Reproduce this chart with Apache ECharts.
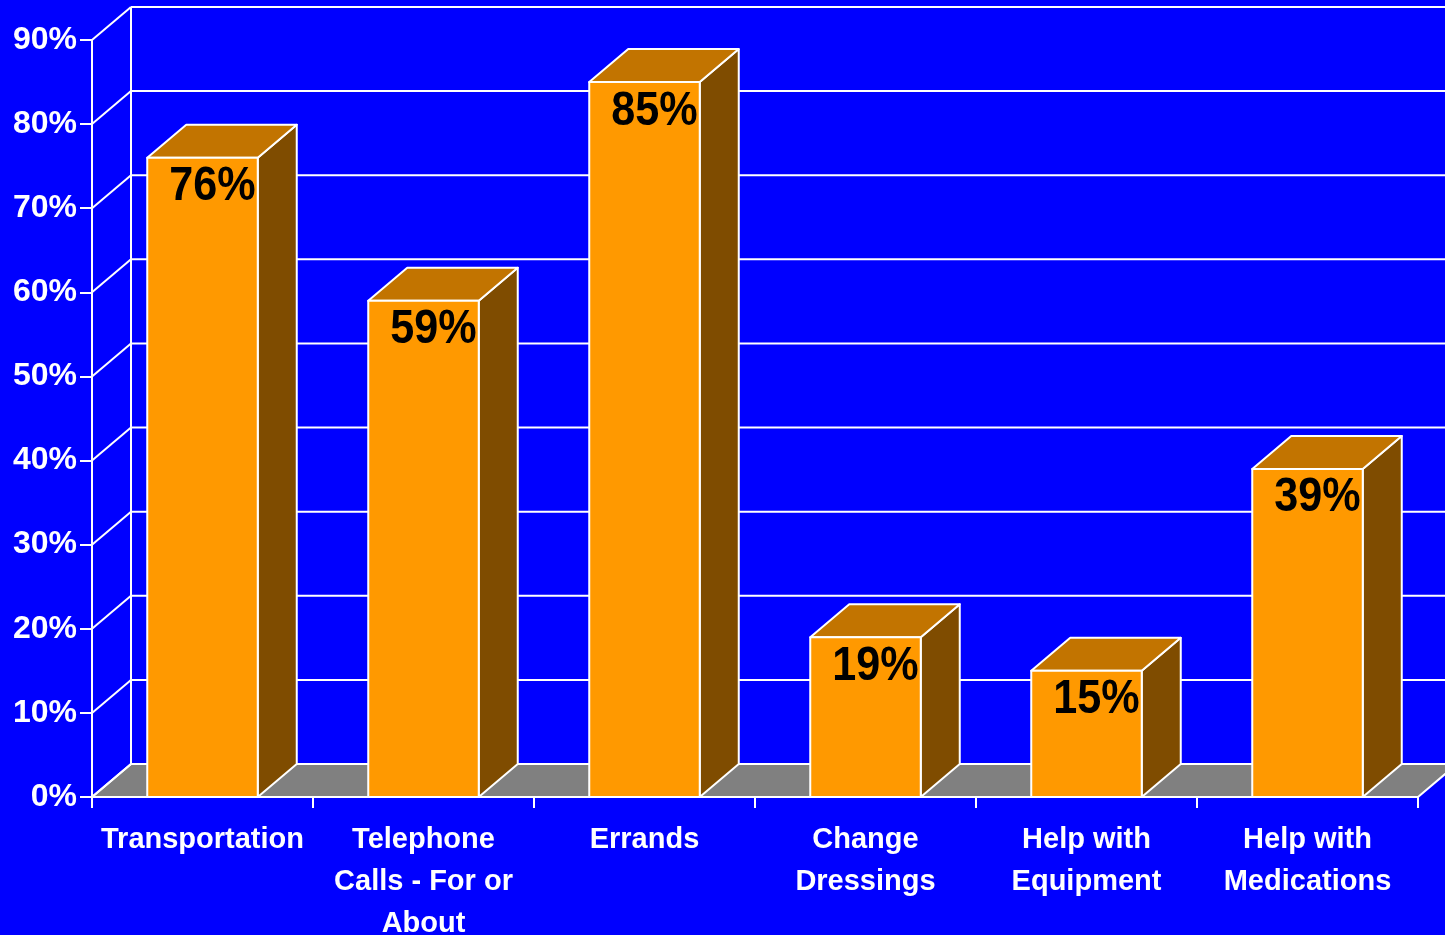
<!DOCTYPE html>
<html><head><meta charset="utf-8">
<script src="https://cdn.jsdelivr.net/npm/echarts@6/dist/echarts.min.js"></script>
<style>html,body{margin:0;padding:0;background:#0000FF;overflow:hidden;}#c{width:1445px;height:935px;}</style>
</head><body><div id="c"></div>
<script>
// ---- data ----
const categories = ['Transportation', 'Telephone\nCalls - For or\nAbout', 'Errands', 'Change\nDressings', 'Help with\nEquipment', 'Help with\nMedications'];
const values = [76, 59, 85, 19, 15, 39];
const yTicks = [0, 10, 20, 30, 40, 50, 60, 70, 80, 90];
const yTickLabels = ['0%', '10%', '20%', '30%', '40%', '50%', '60%', '70%', '80%', '90%'];

// ---- style ----
const DX = 39, DY = -33;
const FONT = '"Liberation Sans", Arial, Helvetica, sans-serif';
const WHITE = '#FFFFFF';

const chart = echarts.init(document.getElementById('c'), null, {renderer: 'canvas'});

function bandEdges(api) {
  const band = api.size([1, 0])[0];
  const first = api.coord([0, 0])[0] - band / 2;
  const last = api.coord([categories.length - 1, 0])[0] + band / 2;
  return [first, last];
}

function renderFloor(params, api) {
  const [xl, xr] = bandEdges(api);
  const y0 = api.coord([0, 0])[1];
  return {
    type: 'polygon',
    shape: {points: [[xl, y0], [xr, y0], [xr + DX, y0 + DY], [xl + DX, y0 + DY]]},
    style: {fill: '#808080', stroke: WHITE, lineWidth: 2}
  };
}

function renderGrid(params, api) {
  const [xl, xr] = bandEdges(api);
  const v = api.value(1);
  const y = api.coord([0, v])[1];
  const children = [
    {type: 'line', shape: {x1: xl, y1: y, x2: xl + DX, y2: y + DY}, style: {stroke: WHITE, lineWidth: 2}},
    {type: 'line', shape: {x1: xl + DX, y1: y + DY, x2: xr + DX + 40, y2: y + DY}, style: {stroke: WHITE, lineWidth: 2}}
  ];
  if (params.dataIndex === 0) {
    const yTop = api.coord([0, yTicks[yTicks.length - 1]])[1];
    children.push({type: 'line', shape: {x1: xl + DX, y1: y + DY, x2: xl + DX, y2: yTop + DY}, style: {stroke: WHITE, lineWidth: 2}});
  }
  return {type: 'group', children: children};
}

function renderBar(params, api) {
  const i = api.value(0), v = api.value(1);
  const base = api.coord([i, 0]);
  const top = api.coord([i, v]);
  const band = api.size([1, 0])[0];
  const w = band * 0.5;
  const x0 = base[0] - w / 2, x1 = base[0] + w / 2, yb = base[1], yt = top[1];
  const st = {stroke: WHITE, lineWidth: 2, lineJoin: 'round'};
  return {
    type: 'group',
    children: [
      {type: 'polygon', shape: {points: [[x1, yt], [x1 + DX, yt + DY], [x1 + DX, yb + DY], [x1, yb]]}, style: Object.assign({fill: '#7F4C00'}, st)},
      {type: 'polygon', shape: {points: [[x0, yt], [x1, yt], [x1 + DX, yt + DY], [x0 + DX, yt + DY]]}, style: Object.assign({fill: '#C27400'}, st)},
      {type: 'rect', shape: {x: x0, y: yt, width: w, height: yb - yt}, style: Object.assign({fill: '#FF9900'}, st)},
      {type: 'text', x: base[0] + 10, y: yt + 29, scaleX: 0.88, scaleY: 1,
        style: {text: v + '%', x: 0, y: 0, align: 'center', verticalAlign: 'middle', fill: '#000000',
          fontSize: 49, fontWeight: 'bold', fontFamily: FONT}}
    ]
  };
}

const option = {
  backgroundColor: '#0000FF',
  animation: false,
  grid: {left: 92, right: 27, top: 40, bottom: 138, containLabel: false, outerBoundsMode: 'none'},
  xAxis: {
    type: 'category',
    data: categories,
    boundaryGap: true,
    axisLine: {show: true, lineStyle: {color: WHITE, width: 2}},
    axisTick: {show: true, length: 11, lineStyle: {color: WHITE, width: 2}},
    axisLabel: {color: WHITE, fontSize: 29, fontWeight: 'bold', fontFamily: FONT, lineHeight: 42, margin: 22, interval: 0},
    splitLine: {show: false}
  },
  yAxis: {
    type: 'value',
    min: 0, max: 90, interval: 10,
    axisLine: {show: true, lineStyle: {color: WHITE, width: 2}},
    axisTick: {show: true, length: 12, lineStyle: {color: WHITE, width: 2}},
    axisLabel: {color: WHITE, fontSize: 32, fontWeight: 'bold', fontFamily: FONT, margin: 15,
      formatter: function (val) { const k = yTicks.indexOf(val); return k >= 0 ? yTickLabels[k] : ''; }},
    splitLine: {show: false}
  },
  series: [
    {type: 'custom', name: 'floor', clip: false, z: 1, renderItem: renderFloor, data: [[0, 0]], silent: true},
    {type: 'custom', name: 'grid', clip: false, z: 2, renderItem: renderGrid, data: yTicks.map(t => [0, t]), silent: true},
    {type: 'custom', name: 'bars', clip: false, z: 3, renderItem: renderBar, data: values.map((v, i) => [i, v])}
  ]
};
chart.setOption(option);
</script>
</body></html>
